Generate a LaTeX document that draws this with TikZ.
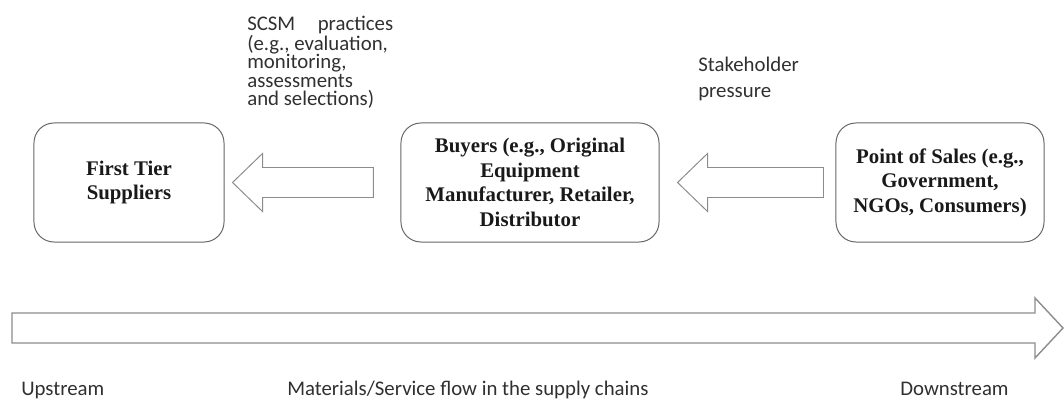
\documentclass[tikz,border=0pt]{standalone}
\usepackage{fontspec}
\setmainfont{Liberation Serif}
\newfontfamily\labelfont{Carlito}
\usetikzlibrary{calc, positioning}
\definecolor{mainBlack}{gray}{0.1}
\definecolor{subGray}{gray}{0.4}
\definecolor{arrowGray}{gray}{0.55}
\lineskiplimit=-100pt
\lineskip=0pt
\frenchspacing

\tikzset{
    party/.style={draw=subGray, line width=0.7pt, rounded corners=0.5cm,
        minimum height=2.975cm, inner sep=0pt, align=center, text=mainBlack,
        font={\fontsize{14.8}{17.5}\selectfont\bfseries}},
    blockarrow/.style={draw=arrowGray, line width=0.7pt, line join=miter},
    note/.style={inner sep=0pt, text=mainBlack!90, align=flush left,
        font={\labelfont\fontsize{14.8}{13}\selectfont}},
}

\begin{document}
\begin{tikzpicture}[x=0.025cm, y=-0.025cm]
    \useasboundingbox (0,0) rectangle (1064,405);

    % parties along the chain
    \node[party, minimum width=4.75cm] (tier) at (129,182.5) {First Tier\\Suppliers};
    \node[party, minimum width=6.45cm] (buyers) at (530,182.5) {Buyers (e.g., Original\\Equipment\\Manufacturer, Retailer,\\Distributor};
    \node[party, minimum width=5.2cm] (sales) at (940,182.5) {Point of Sales (e.g.,\\Government,\\NGOs, Consumers)};

    \coordinate (practicesTip) at ($(tier.east)+(8,0)$);
    \coordinate (practicesTail) at ($(buyers.west)+(-27,0)$);
    \coordinate (pressureTip) at ($(buyers.east)+(18,0)$);
    \coordinate (pressureTail) at ($(sales.west)+(-12,0)$);

    \draw[blockarrow] (practicesTip) -- ++(30,-29) -- ++(0,14) -- ($(practicesTail)+(0,-15)$)
        -- ($(practicesTail)+(0,15)$) -- ($(practicesTip)+(30,15)$) -- ++(0,14) -- cycle;
    \draw[blockarrow] (pressureTip) -- ++(30,-29) -- ++(0,14) -- ($(pressureTail)+(0,-15)$)
        -- ($(pressureTail)+(0,15)$) -- ($(pressureTip)+(30,15)$) -- ++(0,14) -- cycle;

    \node[note, anchor=north west, text width=3.9cm] (practices) at (247,16)
        {SCSM\hspace{16pt}practices\\(e.g., evaluation,\\monitoring,\\assessments\\and selections)};
    \node[note, anchor=north west, text width=3cm, font={\labelfont\fontsize{14.8}{18.4}\selectfont}] (pressure) at (698,57)
        {Stakeholder\\pressure};

    % material flow
    \coordinate (flowTail) at (12,328);
    \coordinate (flowTip) at (1063,328);
    \draw[blockarrow, line width=1pt] ($(flowTail)+(0,-15)$) -- ($(flowTip)+(-28,-15)$) -- ++(0,-15)
        -- (flowTip) -- ++(-28,30) -- ++(0,-15) -- ($(flowTail)+(0,15)$) -- cycle;

    \node[note, anchor=base west] (up) at (21,395) {Upstream};
    \node[note, anchor=base west] (flow) at (287,395) {Materials/Service flow in the supply chains};
    \node[note, anchor=base west] (down) at (900,395) {Downstream};
\end{tikzpicture}
\end{document}
